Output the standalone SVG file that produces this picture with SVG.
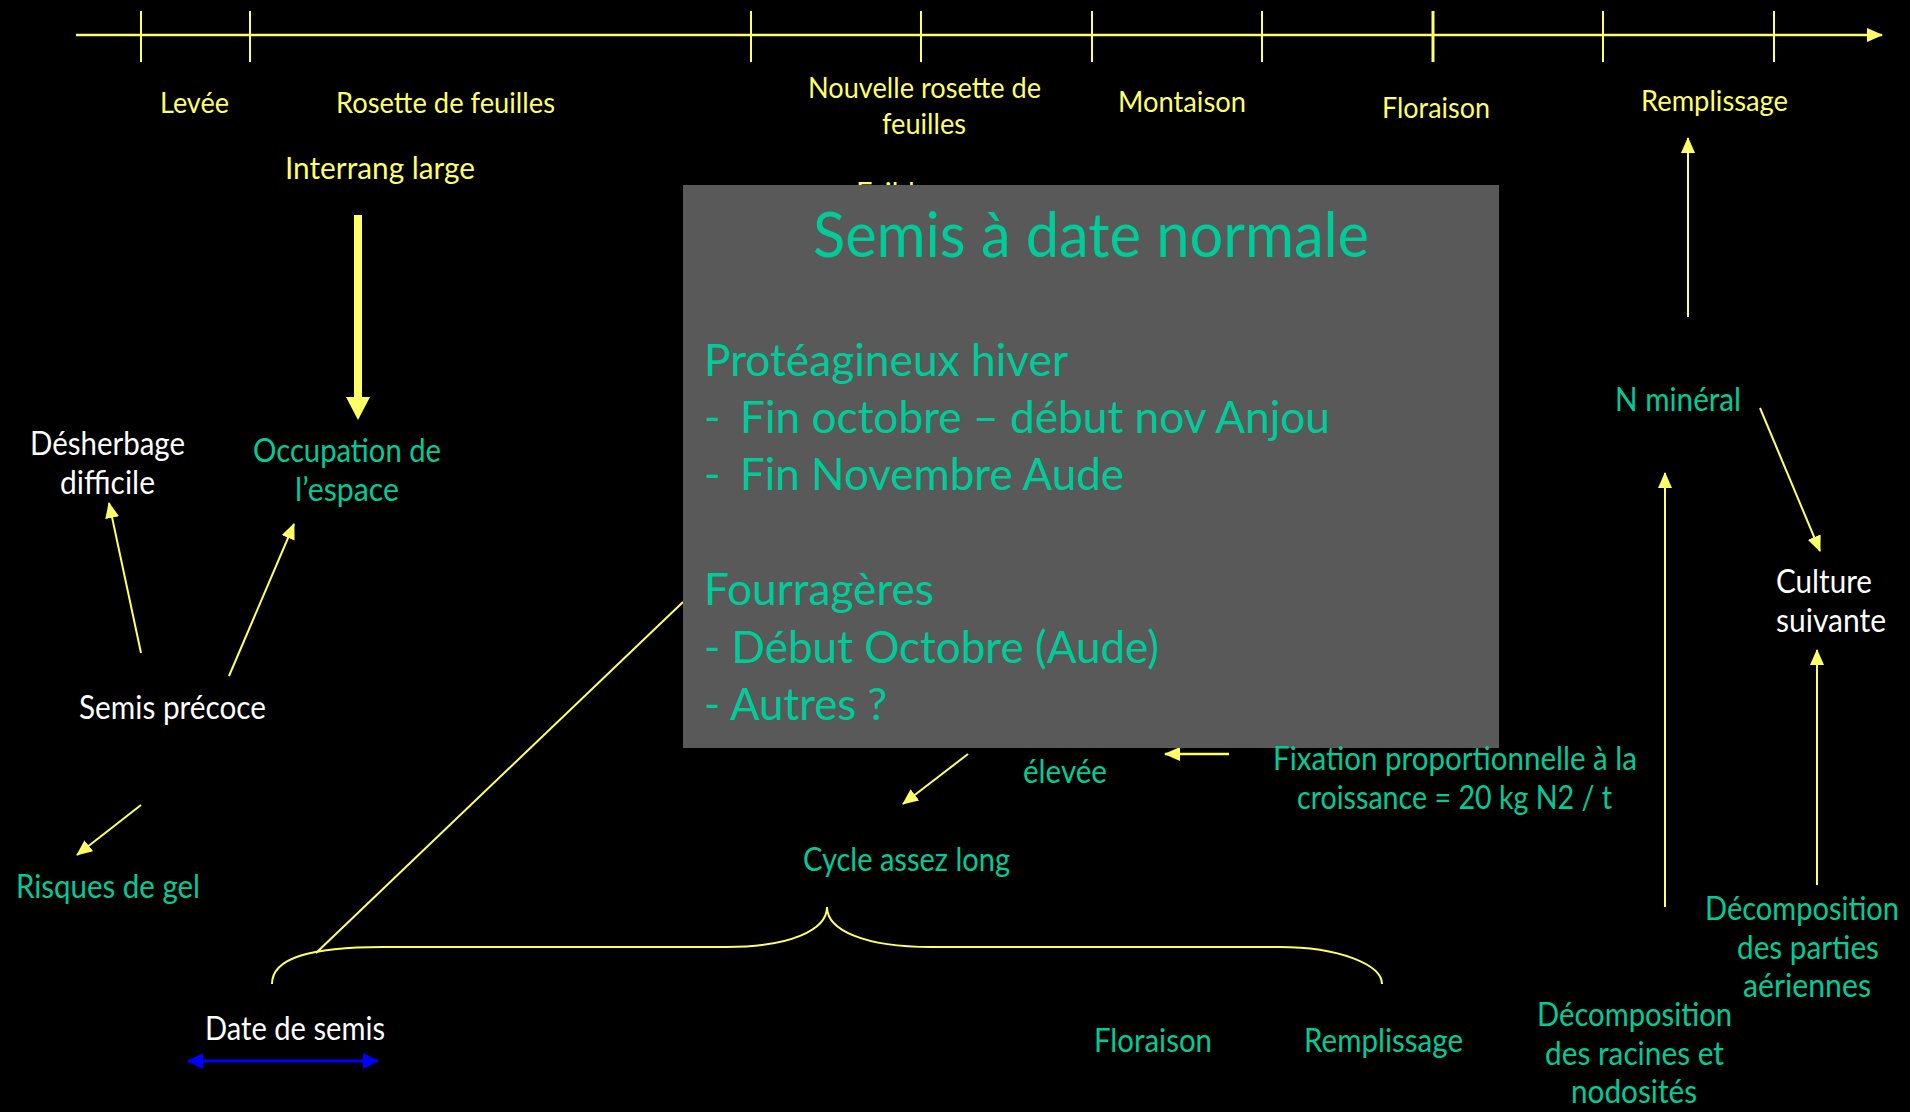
<svg xmlns="http://www.w3.org/2000/svg" width="1910" height="1112" viewBox="0 0 1910 1112">
<defs>
<style>
text{font-family:Lato,"Open Sans","Liberation Sans",sans-serif;}
.y29{font-size:29px;fill:#FFFF66;}
.y31{font-size:31px;fill:#FFFF66;}
.t32{font-size:32px;fill:#00CC99;}
.w32{font-size:32px;fill:#FFFFFF;}
.bt{font-size:62px;fill:#00CC99;}
.bb{font-size:45px;fill:#00CC99;}
.ln{stroke:#FFFF66;stroke-width:2;fill:none;}
</style>
<marker id="ah" markerUnits="userSpaceOnUse" markerWidth="16" markerHeight="14" viewBox="0 0 16 14" refX="15" refY="7" orient="auto"><path d="M0,0 L16,7 L0,14 z" fill="#FFFF66"/></marker>
<marker id="ahb" markerUnits="userSpaceOnUse" markerWidth="16" markerHeight="16" viewBox="0 0 16 16" refX="15" refY="8" orient="auto-start-reverse"><path d="M0,0 L16,8 L0,16 z" fill="#0000FF"/></marker>
<marker id="ahthick" markerUnits="userSpaceOnUse" markerWidth="24" markerHeight="24" viewBox="0 0 23 24" refX="0" refY="12" orient="auto"><path d="M0,0 L23,12 L0,24 z" fill="#FFFF66"/></marker>
<clipPath id="aboveBox"><rect x="800" y="150" width="200" height="35"/></clipPath>
</defs>
<rect x="0" y="0" width="1910" height="1112" fill="#000000"/>

<g id="timeline">
<line class="ln" x1="76" y1="35" x2="1882" y2="35" style="stroke-width:2.5" marker-end="url(#ah)"/>
<g class="ln">
<line x1="141" y1="11" x2="141" y2="62"/>
<line x1="250" y1="11" x2="250" y2="62"/>
<line x1="751" y1="11" x2="751" y2="62"/>
<line x1="921" y1="11" x2="921" y2="62"/>
<line x1="1092" y1="11" x2="1092" y2="62"/>
<line x1="1262" y1="11" x2="1262" y2="62"/>
<line x1="1433" y1="11" x2="1433" y2="62" style="stroke-width:3"/>
<line x1="1603" y1="11" x2="1603" y2="62"/>
<line x1="1774" y1="11" x2="1774" y2="62"/>
</g>
</g>

<g id="stage-labels">
<text id="levee" class="y29" x="160" y="113" textLength="69" lengthAdjust="spacingAndGlyphs">Levée</text>
<text id="rosette" class="y29" x="336" y="113" textLength="219" lengthAdjust="spacingAndGlyphs">Rosette de feuilles</text>
<text id="nouvelle-rosette" class="y29"><tspan x="808" y="98" textLength="233" lengthAdjust="spacingAndGlyphs">Nouvelle rosette de</tspan><tspan x="882" y="134" textLength="84" lengthAdjust="spacingAndGlyphs">feuilles</tspan></text>
<text id="montaison" class="y29" x="1118" y="112" textLength="128" lengthAdjust="spacingAndGlyphs">Montaison</text>
<text id="floraison-top" class="y29" x="1382" y="118" textLength="108" lengthAdjust="spacingAndGlyphs">Floraison</text>
<text id="remplissage-top" class="y29" x="1641" y="111" textLength="147" lengthAdjust="spacingAndGlyphs">Remplissage</text>
<text id="interrang" class="y31" x="285" y="179" textLength="190" lengthAdjust="spacingAndGlyphs">Interrang large</text>
<text id="faible" class="y29" x="856" y="203" clip-path="url(#aboveBox)">Faible</text>
</g>

<g id="connectors">
<line class="ln" x1="358" y1="215" x2="358" y2="397" style="stroke-width:8" marker-end="url(#ahthick)"/>
<line class="ln" x1="141" y1="653" x2="109" y2="503" marker-end="url(#ah)"/>
<line class="ln" x1="229" y1="676" x2="294" y2="524" marker-end="url(#ah)"/>
<line class="ln" x1="141" y1="805" x2="77" y2="855" marker-end="url(#ah)"/>
<line class="ln" x1="968" y1="754" x2="903" y2="804" marker-end="url(#ah)"/>
<line class="ln" x1="1229" y1="754" x2="1165" y2="754" style="stroke-width:2.5" marker-end="url(#ah)"/>
<line class="ln" x1="1688" y1="317" x2="1688" y2="138" marker-end="url(#ah)"/>
<line class="ln" x1="1760" y1="408" x2="1820" y2="551" marker-end="url(#ah)"/>
<line class="ln" x1="1665" y1="907" x2="1665" y2="473" marker-end="url(#ah)"/>
<line class="ln" x1="1817" y1="885" x2="1817" y2="650" marker-end="url(#ah)"/>
<line class="ln" x1="316" y1="953" x2="683" y2="602"/>
<path class="ln" d="M272,984 C272,958 310,947 383,947 L727,947 C790,947 827,930 827,907 C827,930 864,947 931,947 L1279,947 C1340,947 1382,965 1382,984"/>
<line x1="188" y1="1061" x2="378" y2="1061" stroke="#0000FF" stroke-width="3" marker-start="url(#ahb)" marker-end="url(#ahb)"/>
</g>

<g id="box-semis-normal">
<rect x="683" y="185" width="816" height="563" fill="#595959"/>
<text class="bt" x="813" y="257" textLength="556" lengthAdjust="spacingAndGlyphs">Semis à date normale</text>
<text class="bb" x="704" y="376" textLength="364" lengthAdjust="spacingAndGlyphs">Protéagineux hiver</text>
<text class="bb" x="704" y="433">-</text>
<text class="bb" x="740" y="433" textLength="590" lengthAdjust="spacingAndGlyphs">Fin octobre – début nov Anjou</text>
<text class="bb" x="704" y="490">-</text>
<text class="bb" x="740" y="490" textLength="384" lengthAdjust="spacingAndGlyphs">Fin Novembre Aude</text>
<text class="bb" x="704" y="605" textLength="230" lengthAdjust="spacingAndGlyphs">Fourragères</text>
<text class="bb" x="704" y="663" textLength="455" lengthAdjust="spacingAndGlyphs">- Début Octobre (Aude)</text>
<text class="bb" x="704" y="720" textLength="183" lengthAdjust="spacingAndGlyphs">- Autres ?</text>
</g>

<g id="desherbage"><text class="w32"><tspan x="30" y="455" textLength="155" lengthAdjust="spacingAndGlyphs">Désherbage</tspan><tspan x="60" y="494" textLength="95" lengthAdjust="spacingAndGlyphs">difficile</tspan></text></g>
<g id="occupation"><text class="t32"><tspan x="253" y="462" textLength="188" lengthAdjust="spacingAndGlyphs">Occupation de</tspan><tspan x="295" y="501" textLength="104" lengthAdjust="spacingAndGlyphs">l’espace</tspan></text></g>
<g id="semis-precoce"><text class="w32" x="79" y="719" textLength="187" lengthAdjust="spacingAndGlyphs">Semis précoce</text></g>
<g id="risques-gel"><text class="t32" x="16" y="898" textLength="184" lengthAdjust="spacingAndGlyphs">Risques de gel</text></g>
<g id="cycle"><text class="t32" x="803" y="871" textLength="207" lengthAdjust="spacingAndGlyphs">Cycle assez long</text></g>
<g id="elevee"><text class="t32" x="1023" y="783" textLength="84" lengthAdjust="spacingAndGlyphs">élevée</text></g>
<g id="fixation"><text class="t32"><tspan x="1273" y="770" textLength="364" lengthAdjust="spacingAndGlyphs">Fixation proportionnelle à la</tspan><tspan x="1297" y="809" textLength="315" lengthAdjust="spacingAndGlyphs">croissance = 20 kg N2 / t</tspan></text></g>
<g id="date-semis"><text class="w32" x="205" y="1040" textLength="180" lengthAdjust="spacingAndGlyphs">Date de semis</text></g>
<g id="floraison-bottom"><text class="t32" x="1094" y="1052" textLength="118" lengthAdjust="spacingAndGlyphs">Floraison</text></g>
<g id="remplissage-bottom"><text class="t32" x="1304" y="1052" textLength="159" lengthAdjust="spacingAndGlyphs">Remplissage</text></g>
<g id="decomp-racines"><text class="t32"><tspan x="1537" y="1026" textLength="195" lengthAdjust="spacingAndGlyphs">Décomposition</tspan><tspan x="1545" y="1065" textLength="179" lengthAdjust="spacingAndGlyphs">des racines et</tspan><tspan x="1571" y="1103" textLength="126" lengthAdjust="spacingAndGlyphs">nodosités</tspan></text></g>
<g id="decomp-parties"><text class="t32"><tspan x="1705" y="920" textLength="194" lengthAdjust="spacingAndGlyphs">Décomposition</tspan><tspan x="1737" y="959" textLength="142" lengthAdjust="spacingAndGlyphs">des parties</tspan><tspan x="1743" y="997" textLength="128" lengthAdjust="spacingAndGlyphs">aériennes</tspan></text></g>
<g id="n-mineral"><text class="t32" x="1615" y="411" textLength="126" lengthAdjust="spacingAndGlyphs">N minéral</text></g>
<g id="culture-suivante"><text class="w32"><tspan x="1776" y="593" textLength="96" lengthAdjust="spacingAndGlyphs">Culture</tspan><tspan x="1776" y="632" textLength="110" lengthAdjust="spacingAndGlyphs">suivante</tspan></text></g>
</svg>
